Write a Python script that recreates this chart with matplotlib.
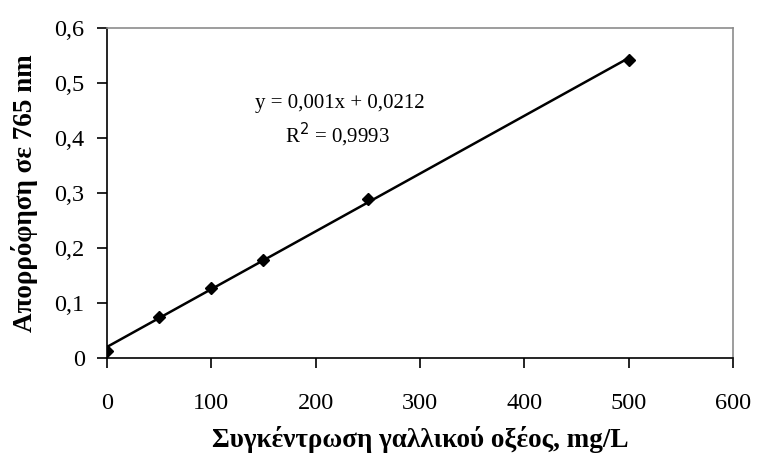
import numpy as np
import matplotlib.pyplot as plt

# gallic acid calibration standards
conc = [0, 50, 100, 150, 250, 500]            # mg/L
absorb = [0.012, 0.075, 0.128, 0.178, 0.29, 0.541]

x_ticks = [0, 100, 200, 300, 400, 500, 600]
y_ticks = [0, 0.1, 0.2, 0.3, 0.4, 0.5, 0.6]

plt.rcParams['font.family'] = ['Liberation Serif', 'DejaVu Serif']

slope, intercept = np.polyfit(conc, absorb, 1)
fit_x = np.array([min(conc), max(conc)])

fig = plt.figure(figsize=(7.57, 4.58), dpi=100)
ax = fig.add_axes([0.1413, 0.2183, 0.827, 0.7205])

ax.plot(fit_x, slope * fit_x + intercept, color='black', lw=1.8)
ax.plot(conc, absorb, linestyle='none', marker='D', ms=6.5, color='black')

ax.set_xlim(0, 600)
ax.set_ylim(0, 0.6)
ax.set_xticks(x_ticks)
ax.set_yticks(y_ticks)
ax.set_xticklabels([str(t) for t in x_ticks])
ax.set_yticklabels(['0' if t == 0 else f'{t:.1f}'.replace('.', ',') for t in y_ticks])
ax.tick_params(direction='out', length=7, width=1.2, labelsize=17.5)
ax.tick_params(axis='x', pad=18)
ax.tick_params(axis='y', pad=9)
ax.spines['left'].set_linewidth(1.2)
ax.spines['bottom'].set_linewidth(1.2)
for side in ('top', 'right'):
    ax.spines[side].set_color('#8c8c8c')
    ax.spines[side].set_linewidth(1.2)

ax.text(223, 0.462, 'y = 0,001x + 0,0212', ha='center', va='center', fontsize=15)
ax.text(221, 0.405, 'R$^2$ = 0,9993', ha='center', va='center', fontsize=15)

ax.set_xlabel('Συγκέντρωση γαλλικού οξέος, mg/L', fontsize=19.5, fontweight='bold', labelpad=9)
ax.set_ylabel('Απορρόφηση σε 765 nm', fontsize=19.5, fontweight='bold', labelpad=12)

fig.savefig('out.png', dpi=100)
